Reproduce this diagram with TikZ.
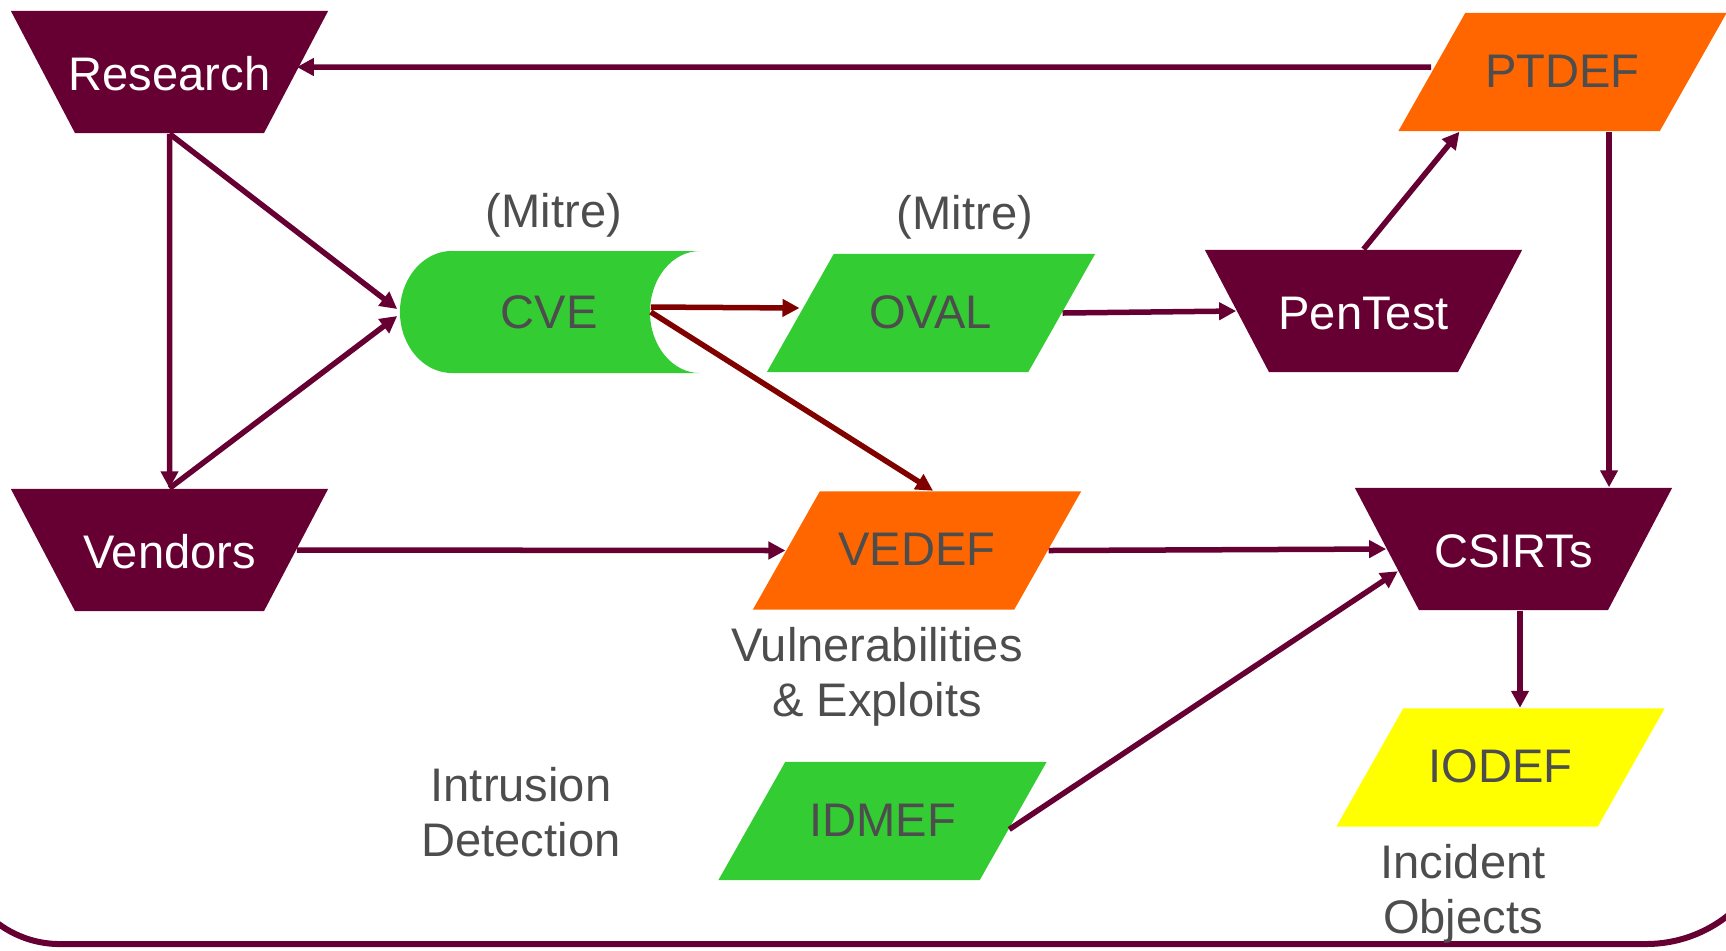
\documentclass[tikz,border=0pt]{standalone}
\usepackage{fontspec}
\setmainfont{Liberation Sans}
\usetikzlibrary{shapes.geometric, arrows.meta, calc}
\definecolor{actormaroon}{RGB}{102, 0, 51}
\definecolor{mitregreen}{RGB}{51, 204, 51}
\definecolor{orange1}{RGB}{255, 102, 0}
\definecolor{iodefyellow}{RGB}{255, 255, 0}
\definecolor{cvered}{RGB}{128, 0, 0}
\definecolor{textgray}{RGB}{77, 77, 77}

\tikzset{
  bigfont/.style={font=\fontsize{13.4}{15.6}\selectfont},
  actor/.style={trapezium, trapezium left angle=117.7, trapezium right angle=117.7, trapezium stretches body=true, minimum width=3.17cm, text height=0.38cm, text depth=0.02cm, inner xsep=0pt, inner ysep=0.41cm, fill=actormaroon, text=white, bigfont},
  format/.style={trapezium, trapezium left angle=60.5, trapezium right angle=119.5, trapezium stretches body=true, minimum width=3.28cm, text height=0.32cm, text depth=0.02cm, inner xsep=0pt, inner ysep=0.42cm, text=textgray, bigfont},
  note/.style={text=textgray, align=center, bigfont},
  link/.style={draw=actormaroon, line width=0.055cm, -{Triangle[length=0.17cm, width=0.17cm]}},
  cvelink/.style={link, draw=cvered},
}

\begin{document}
\begin{tikzpicture}[x=0.01cm, y=-0.01cm]
  \useasboundingbox (0,0) rectangle (1726,950);

  % bottom of the surrounding frame
  \begin{scope}
    \clip (0,0) rectangle (1726,950);
    \draw[actormaroon, line width=0.06cm] (-44,600) -- (-44,840) arc[start angle=180, end angle=270, radius=1.04cm]
      -- (1646,944) arc[start angle=270, end angle=360, radius=1.32cm] -- (1778,600);
  \end{scope}

  % actors
  \node[actor, inner xsep=-0.07cm] (res) at (169.5,72) {Research};
  \node[actor] (ven) at (169.5,550) {Vendors};
  \node[actor] (pen) at (1363.5,311) {PenTest};
  \node[actor] (csirt) at (1513.5,549) {CSIRTs};

  % CVE store
  \fill[mitregreen] (452,251) -- (700,251) arc[start angle=90, end angle=270, x radius=0.5cm, y radius=0.61cm]
    -- (452,373) arc[start angle=270, end angle=90, x radius=0.52cm, y radius=0.61cm] -- cycle;
  \node[minimum width=3.02cm, minimum height=1.22cm, inner sep=0pt, text=textgray, bigfont] (cve) at (549,312) {CVE};
  \coordinate (cvejoin) at ([xshift=-0.5cm]cve.east);

  % formats
  \node[format, fill=mitregreen] (oval) at (931,313) {OVAL};
  \node[format, fill=orange1] (ptdef) at (1562.5,72) {PTDEF};
  \node[format, fill=orange1] (vedef) at (917,550.5) {VEDEF};
  \node[format, fill=iodefyellow] (iodef) at (1500.5,767.5) {IODEF};
  \node[format, fill=mitregreen] (idmef) at (882.5,821) {IDMEF};

  % notes
  \node[note] (mitrecve) at (554,215) {(Mitre)};
  \node[note] (mitreoval) at (965,217) {(Mitre)};
  \node[note] (vulns) at (877,677) {Vulnerabilities\\\& Exploits};
  \node[note] (intrusion) at (521,812.5) {Intrusion\\Detection};
  \node[note] (incident) at (1463,893.5) {Incident\\Objects};

  % connectors
  \draw[link] ([yshift=0.05cm]ptdef.west) -- ([yshift=0.05cm]res.east);
  \draw[link] (res.south) -- (ven.north);
  \draw[link] (res.south) -- ([yshift=0.03cm]cve.west);
  \draw[link] (ven.north) -- ([yshift=-0.04cm]cve.west);
  \draw[cvelink] ([yshift=0.05cm]cvejoin) -- ([yshift=0.05cm]oval.west);
  \draw[cvelink] (cvejoin) -- ([xshift=0.16cm]vedef.north);
  \draw[link] (oval.east) -- (pen.west);
  \draw[link] (pen.north) -- ([xshift=-1.03cm]ptdef.south);
  \draw[link] ([xshift=0.465cm]ptdef.south) -- ([xshift=0.465cm]ptdef.south |- csirt.north);
  \draw[link] (ven.east) -- (vedef.west);
  \draw[link] (vedef.east) -- (csirt.west);
  \draw[link] ($(idmef.bottom right corner)!0.43!(idmef.top right corner)$) -- ($(csirt.top left corner)!0.68!(csirt.bottom left corner)$);
  \draw[link] ([xshift=0.065cm]csirt.south) -- ([xshift=0.065cm]csirt.south |- iodef.north);
\end{tikzpicture}
\end{document}
